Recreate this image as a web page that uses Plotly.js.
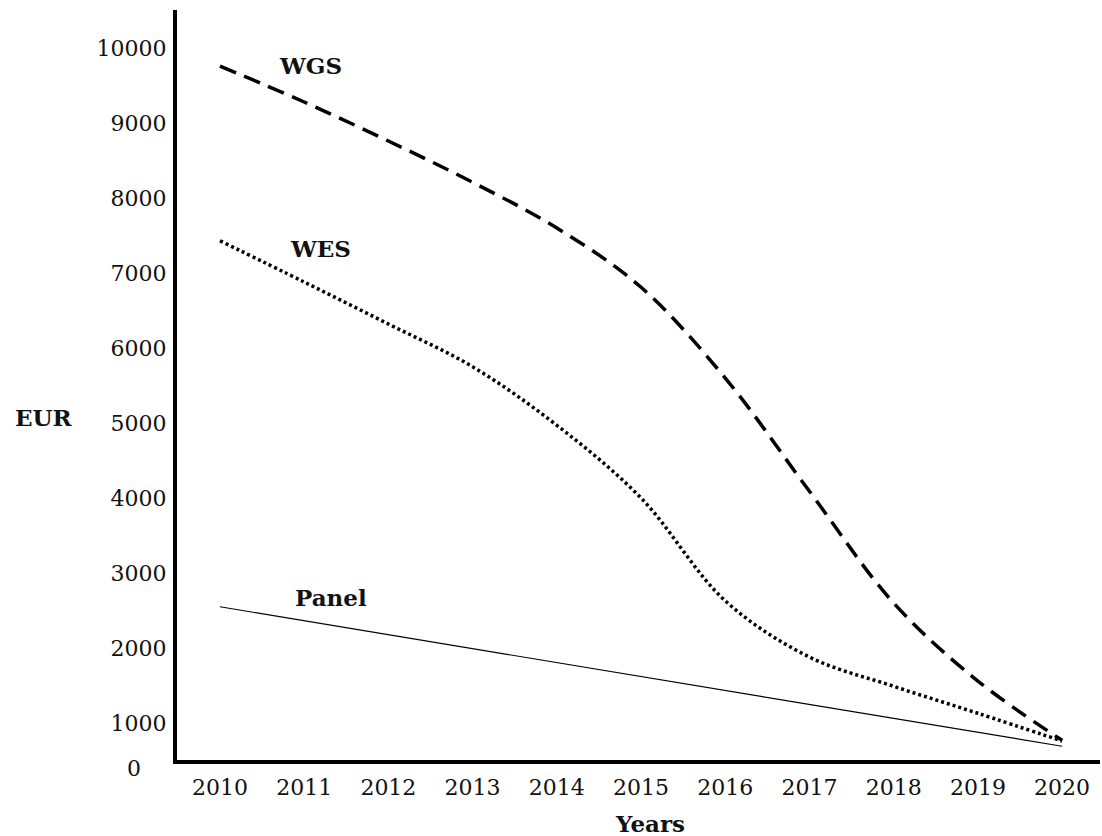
<!DOCTYPE html>
<html>
<head>
<meta charset="utf-8">
<script src="https://cdn.plot.ly/plotly-3.0.1.min.js"></script>
<style>html,body{margin:0;padding:0;background:#fff;}#chart{width:1102px;height:836px;}</style>
</head>
<body>
<div id="chart"></div>
<script>
const years = [2010, 2011, 2012, 2013, 2014, 2015, 2016, 2017, 2018, 2019, 2020];
const wgs = [9760, 9280, 8760, 8210, 7600, 6810, 5600, 4090, 2600, 1560, 770];
const wes = [7430, 6880, 6320, 5750, 4970, 4000, 2630, 1880, 1490, 1130, 760];
const panelYears = [2010, 2020];
const panel = [2550, 690];
const yTickVals = [1000, 2000, 3000, 4000, 5000, 6000, 7000, 8000, 9000, 10000];
const yTickText = ['1000', '2000', '3000', '4000', '5000', '6000', '7000', '8000', '9000', '10000'];
const xTickVals = years;
const xTickText = years.map(String);

const serif = 'DejaVu Serif, Liberation Serif, serif';

const traces = [
  {x: years, y: wgs, mode: 'lines', name: 'WGS',
   line: {color: '#000', width: 3.5, dash: '17px,9px', shape: 'spline'}},
  {x: years, y: wes, mode: 'lines', name: 'WES',
   line: {color: '#000', width: 3.5, dash: '3px,3px', shape: 'spline'}},
  {x: panelYears, y: panel, mode: 'lines', name: 'Panel',
   line: {color: '#000', width: 1.2}}
];

const layout = {
  width: 1102, height: 836,
  margin: {l: 177, r: 2, t: 10, b: 76},
  paper_bgcolor: '#fff', plot_bgcolor: '#fff',
  showlegend: false,
  xaxis: {
    range: [2009.49, 2020.45],
    tickvals: xTickVals, ticktext: xTickText,
    showgrid: false, zeroline: false,
    showline: true, linecolor: '#000', linewidth: 4,
    ticks: '', ticklabelstandoff: 5,
    tickfont: {family: serif, size: 22, color: '#111'}
  },
  yaxis: {
    range: [507, 10507],
    tickvals: yTickVals, ticktext: yTickText,
    showgrid: false, zeroline: false,
    showline: true, linecolor: '#000', linewidth: 4,
    ticks: '', ticklabelstandoff: 2,
    tickfont: {family: serif, size: 22, color: '#111'}
  },
  annotations: [
    {text: '0', xref: 'paper', yref: 'paper', x: 0, y: 0, xanchor: 'right', yanchor: 'middle',
     xshift: -34, yshift: -8, showarrow: false, font: {family: serif, size: 22, color: '#111'}},
    {text: '<b>EUR</b>', xref: 'paper', yref: 'paper', x: 0, y: 0, xanchor: 'center', yanchor: 'middle',
     xshift: -133, yshift: 343, showarrow: false, font: {family: serif, size: 23, color: '#111'}},
    {text: '<b>Years</b>', xref: 'paper', yref: 'paper', x: 0, y: 0, xanchor: 'center', yanchor: 'middle',
     xshift: 473, yshift: -63, showarrow: false, font: {family: serif, size: 23, color: '#111'}},
    {text: '<b>WGS</b>', x: 2011.08, y: 9773, showarrow: false, font: {family: serif, size: 23, color: '#111'}},
    {text: '<b>WES</b>', x: 2011.19, y: 7333, showarrow: false, font: {family: serif, size: 23, color: '#111'}},
    {text: '<b>Panel</b>', x: 2011.32, y: 2680, showarrow: false, font: {family: serif, size: 23, color: '#111'}}
  ]
};

Plotly.newPlot('chart', traces, layout, {displayModeBar: false, staticPlot: true});
</script>
</body>
</html>
